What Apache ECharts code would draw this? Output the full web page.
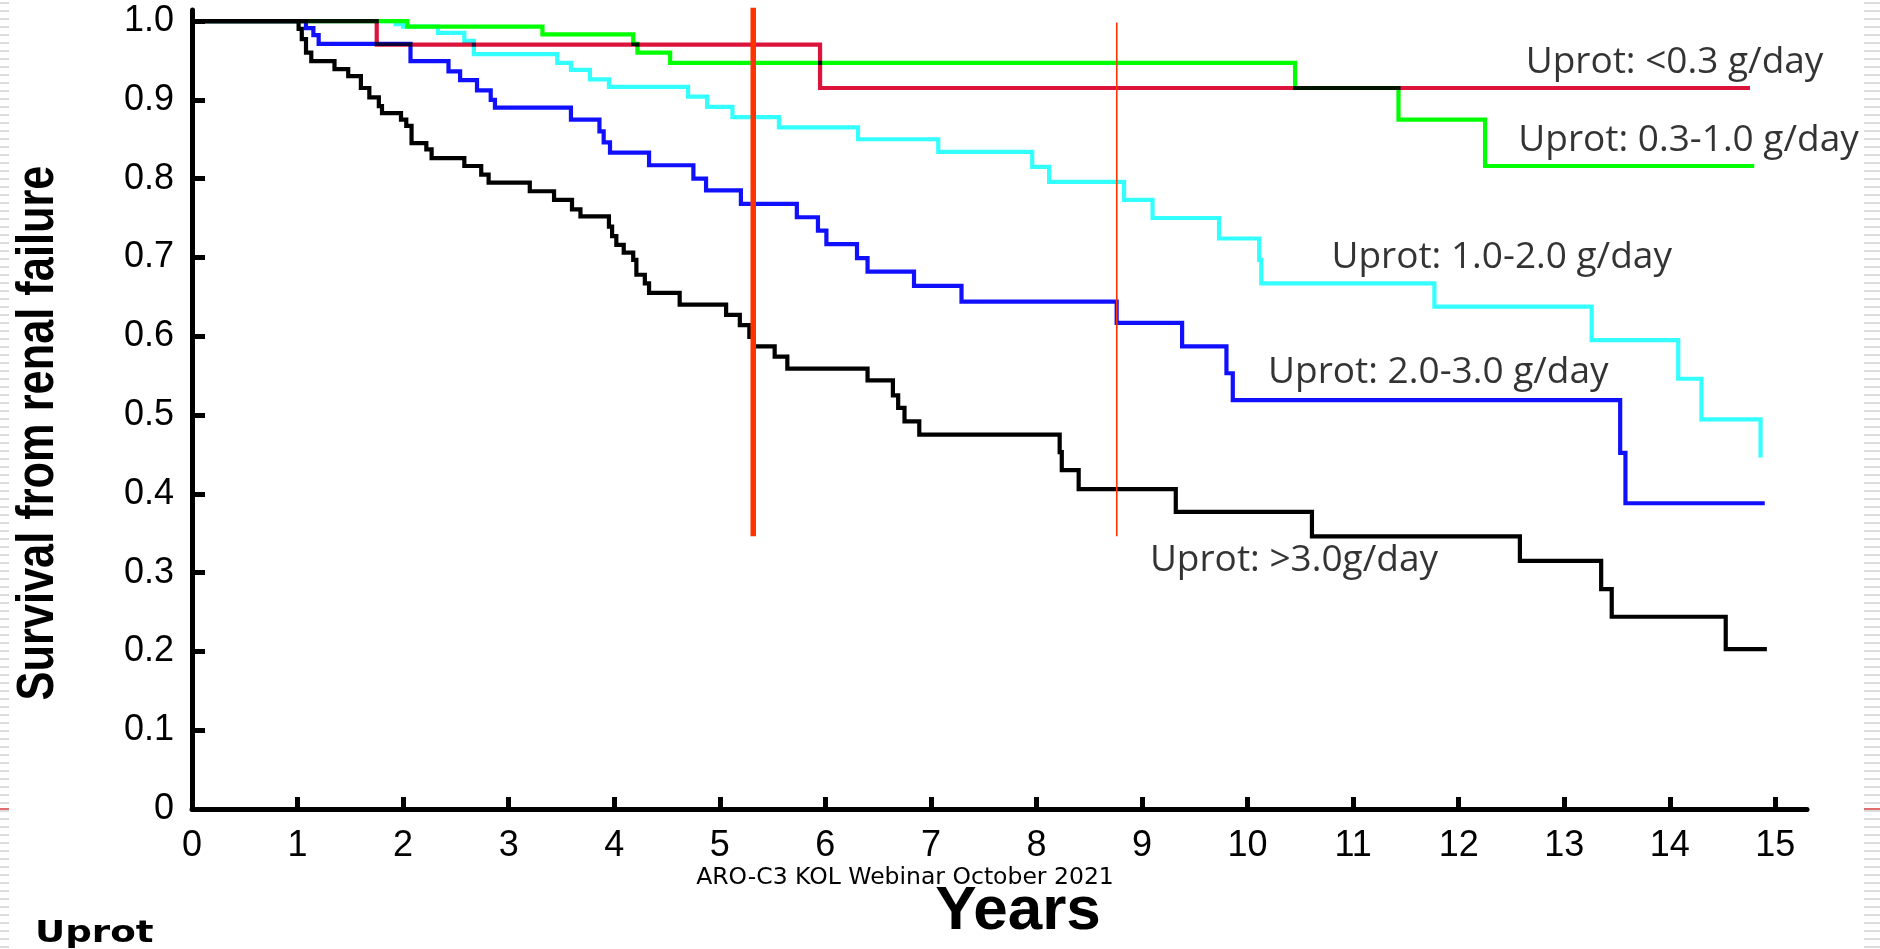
<!DOCTYPE html>
<html>
<head>
<meta charset="utf-8">
<script src="https://cdn.jsdelivr.net/npm/echarts@6/dist/echarts.min.js"></script>
<style>
  html, body { margin: 0; padding: 0; background: #fff; }
  #chart { width: 1880px; height: 949px; }
</style>
</head>
<body>
<div id="chart"></div>
<script>
// ---------------- DATA ----------------
const xTicks = [0, 1, 2, 3, 4, 5, 6, 7, 8, 9, 10, 11, 12, 13, 14, 15];
const xTickLabels = ['0','1','2','3','4','5','6','7','8','9','10','11','12','13','14','15'];
const yTicks = [0, 0.1, 0.2, 0.3, 0.4, 0.5, 0.6, 0.7, 0.8, 0.9, 1.0];
const yTickLabels = ['0','0.1','0.2','0.3','0.4','0.5','0.6','0.7','0.8','0.9','1.0'];

const seriesNames = ['Uprot: <0.3 g/day', 'Uprot: 0.3-1.0 g/day', 'Uprot: 1.0-2.0 g/day', 'Uprot: 2.0-3.0 g/day', 'Uprot: >3.0g/day'];

// Kaplan-Meier points [years, survival after the event]
const uprotBelow03 = [[0,1],[1.75,0.970],[5.95,0.915],[14.76,0.915]];

const uprot03to10 = [[0,1],[2.04,0.993],[3.32,0.983],[4.18,0.971],[4.22,0.960],[4.53,0.947],
  [10.45,0.915],[11.43,0.875],[12.25,0.816],[14.80,0.816]];

const uprot10to20 = [[0,1],[1.93,0.996],[2.00,0.993],[2.33,0.985],[2.58,0.975],[2.67,0.958],
  [3.46,0.947],[3.59,0.938],[3.77,0.926],[3.95,0.9165],[4.70,0.904],[4.88,0.891],[5.12,0.878],
  [5.56,0.865],[6.31,0.850],[7.07,0.834],[7.96,0.815],[8.12,0.796],[8.83,0.773],[9.10,0.750],
  [9.73,0.724],[10.11,0.697],[10.13,0.667],[11.77,0.6375],[13.26,0.595],[14.08,0.546],
  [14.30,0.4945],[14.86,0.446]];

const uprot20to30 = [[0,1],[1.08,0.991],[1.15,0.982],[1.20,0.971],[2.07,0.949],[2.43,0.936],
  [2.54,0.925],[2.70,0.912],[2.83,0.900],[2.87,0.890],[3.59,0.875],[3.86,0.860],[3.90,0.846],
  [3.96,0.833],[4.33,0.817],[4.75,0.800],[4.87,0.785],[5.20,0.768],[5.73,0.751],[5.93,0.734],
  [6.01,0.717],[6.30,0.699],[6.40,0.682],[6.84,0.664],[7.29,0.644],[8.76,0.617],[9.38,0.587],
  [9.80,0.553],[9.86,0.519],[13.53,0.452],[13.58,0.388],[14.90,0.388]];

const uprotAbove30 = [[0,1],[1.01,0.990],[1.04,0.977],[1.08,0.960],[1.13,0.949],[1.35,0.939],
  [1.48,0.930],[1.60,0.915],[1.68,0.903],[1.77,0.892],[1.80,0.883],[1.98,0.875],[2.03,0.867],
  [2.08,0.845],[2.22,0.837],[2.27,0.826],[2.58,0.816],[2.74,0.805],[2.81,0.795],[3.20,0.784],
  [3.43,0.773],[3.60,0.761],[3.68,0.752],[3.95,0.739],[3.98,0.727],[4.02,0.716],[4.09,0.706],
  [4.18,0.697],[4.21,0.678],[4.29,0.667],[4.33,0.655],[4.62,0.640],[5.06,0.627],[5.19,0.614],
  [5.28,0.599],[5.32,0.587],[5.52,0.574],[5.64,0.559],[6.40,0.544],[6.64,0.525],[6.69,0.509],
  [6.75,0.492],[6.89,0.475],[8.22,0.453],[8.24,0.430],[8.40,0.406],[9.32,0.377],[10.61,0.346],
  [12.58,0.315],[13.35,0.279],[13.45,0.244],[14.53,0.203],[14.92,0.203]];

// vertical reference lines: x position (years), bottom and top survival values
const refLineX = [5.317, 8.761];
const refLineBottom = [0.346, 0.346];
const refLineTop = [1.017, 0.998];

// ---------------- CHART ----------------
const chart = echarts.init(document.getElementById('chart'), null, { renderer: 'canvas' });

const curves = [
  { data: uprotBelow03, color: '#dc143c' },
  { data: uprot03to10, color: '#00ff00' },
  { data: uprot10to20, color: '#33ffff' },
  { data: uprot20to30, color: '#1010ff' },
  { data: uprotAbove30, color: '#000000' }
];

function kmSeries(idx) {
  const c = curves[idx];
  const pts = c.data;
  return {
    type: 'custom',
    name: seriesNames[idx],
    coordinateSystem: 'cartesian2d',
    silent: true,
    z: 3,
    data: [pts[0]],
    renderItem: function (params, api) {
      const out = [];
      for (let i = 0; i < pts.length; i++) {
        if (i > 0) out.push(api.coord([pts[i][0], pts[i - 1][1]]));
        out.push(api.coord(pts[i]));
      }
      return {
        type: 'polyline',
        name: 'kmcurve',
        shape: { points: out },
        style: { stroke: c.color, lineWidth: 4.2, fill: 'none', blend: 'multiply', lineJoin: 'miter', lineCap: 'butt' }
      };
    }
  };
}

// annotation anchors (left-middle of each label) in data coordinates
const labelAnchors = [[12.63, 0.948], [12.56, 0.848], [10.79, 0.700], [10.19, 0.554], [9.07, 0.316]];

const series = [0, 1, 2, 3, 4].map(kmSeries);

refLineX.forEach(function (x, i) {
  series.push({
    type: 'line',
    silent: true,
    clip: false,
    z: 6,
    symbol: 'none',
    data: [[x, refLineBottom[i]], [x, refLineTop[i]]],
    lineStyle: { color: '#ff3300', width: i === 0 ? 5.5 : 1.6 }
  });
});

series.push({
  type: 'scatter',
  silent: true,
  z: 7,
  symbolSize: 1,
  itemStyle: { color: 'rgba(0,0,0,0)' },
  data: seriesNames.map(function (n, i) {
    return { value: labelAnchors[i], label: { formatter: n } };
  }),
  label: {
    show: true, position: 'right', distance: 0,
    fontFamily: '"Open Sans"', fontSize: 37, color: '#000'
  }
});

// slide decoration (striped margins)
const deco = [];
for (let y = 2; y < 949; y += 8) {
  deco.push({ type: 'rect', shape: { x: 0, y: y, width: 9, height: 2 }, style: { fill: '#dcdcdc' }, silent: true });
  deco.push({ type: 'rect', shape: { x: 1864, y: y, width: 16, height: 2 }, style: { fill: '#dcdcdc' }, silent: true });
}
deco.push({ type: 'rect', shape: { x: 0, y: 808, width: 9, height: 2 }, style: { fill: '#e07070' }, silent: true });
deco.push({ type: 'rect', shape: { x: 1864, y: 808, width: 16, height: 2 }, style: { fill: '#e07070' }, silent: true });

const texts = [
  { type: 'text', x: 39, y: 433, rotation: Math.PI / 2, scaleX: 0.85, silent: true,
    style: { text: 'Survival from renal failure', font: 'bold 51px "Liberation Sans"', fill: '#000',
      textAlign: 'center', textVerticalAlign: 'middle', align: 'center', verticalAlign: 'middle' } },
  { type: 'text', x: 1018, y: 912, silent: true,
    style: { text: 'Years', font: 'bold 62px "Liberation Sans"', fill: '#000',
      textAlign: 'center', textVerticalAlign: 'middle', align: 'center', verticalAlign: 'middle' } },
  { type: 'text', x: 905, y: 878, silent: true,
    style: { text: 'ARO-C3 KOL Webinar October 2021', font: '23.5px "DejaVu Sans"', fill: '#000',
      textAlign: 'center', textVerticalAlign: 'middle', align: 'center', verticalAlign: 'middle' } },
  { type: 'text', x: 35, y: 934, scaleX: 1.2, silent: true,
    style: { text: 'Uprot', font: 'bold 31px "DejaVu Sans"', fill: '#000',
      textAlign: 'left', textVerticalAlign: 'middle', align: 'left', verticalAlign: 'middle' } }
];

const option = {
  backgroundColor: '#ffffff',
  animation: false,
  grid: { left: 192, right: 73, top: 10, bottom: 140, containLabel: false },
  xAxis: {
    type: 'value', min: 0, max: 15.3, interval: 1,
    axisLine: { show: true, onZero: false, lineStyle: { color: '#000', width: 5 } },
    axisTick: { show: true, inside: true, length: 12, lineStyle: { color: '#000', width: 5 }, customValues: xTicks },
    axisLabel: {
      show: true, margin: 19, customValues: xTicks,
      formatter: function (v) { return xTickLabels[Math.round(v)]; },
      fontFamily: '"Liberation Sans"', fontSize: 36, color: '#000'
    },
    splitLine: { show: false }
  },
  yAxis: {
    type: 'value', min: 0, max: 1.014, interval: 0.1,
    axisLine: { show: true, onZero: false, lineStyle: { color: '#000', width: 5 } },
    axisTick: { show: true, inside: true, length: 13, lineStyle: { color: '#000', width: 5 }, customValues: yTicks },
    axisLabel: {
      show: true, margin: 18, customValues: yTicks,
      formatter: function (v) { return yTickLabels[Math.round(v * 10)]; },
      fontFamily: '"Liberation Sans"', fontSize: 36, color: '#000'
    },
    splitLine: { show: false }
  },
  graphic: deco.concat(texts),
  series: series
};

chart.setOption(option);

// overlapping survival curves are drawn with multiply blending, as in the original figure
function applyBlend() {
  const zr = chart.getZr();
  zr.storage.getDisplayList(true).forEach(function (el) {
    if (el.name === 'kmcurve') {
      el.style.blend = 'multiply';
      el.markRedraw();
    }
  });
  zr.refreshImmediately();
}
applyBlend();
chart.on('finished', function () {
  const zr = chart.getZr();
  let changed = false;
  zr.storage.getDisplayList(true).forEach(function (el) {
    if (el.name === 'kmcurve' && el.style.blend !== 'multiply') { changed = true; }
  });
  if (changed) applyBlend();
});
</script>
</body>
</html>
